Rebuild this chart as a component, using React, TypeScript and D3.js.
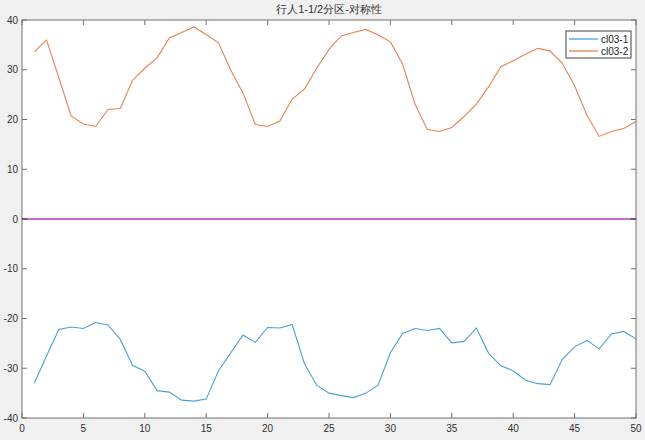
import React from 'react';
import * as d3 from 'd3';

const title = '行人1-1/2分区-对称性';
const seriesNames = ['cl03-1', 'cl03-2'];
const xTicks = [0, 5, 10, 15, 20, 25, 30, 35, 40, 45, 50];
const yTicks = [-40, -30, -20, -10, 0, 10, 20, 30, 40];

const cl031 = [
    -33.0, -27.5, -22.2, -21.7, -22.0, -20.8, -21.3, -24.2, -29.4, -30.6,
    -34.5, -34.8, -36.4, -36.6, -36.2, -30.5, -26.9, -23.3, -24.8, -21.8,
    -21.9, -21.2, -29.1, -33.4, -35.0, -35.5, -35.9, -35.0, -33.4, -26.9,
    -23.0, -22.0, -22.4, -22.0, -24.9, -24.6, -21.9, -27.0, -29.5, -30.5,
    -32.4, -33.1, -33.3, -28.2, -25.7, -24.4, -26.1, -23.1, -22.6, -24.1
];
const cl032 = [
    33.6, 36.0, 28.4, 20.7, 19.1, 18.6, 22.0, 22.2, 27.9, 30.3,
    32.4, 36.4, 37.5, 38.6, 37.1, 35.4, 29.9, 25.3, 19.0, 18.6,
    19.7, 24.1, 26.1, 30.3, 34.1, 36.8, 37.5, 38.1, 37.0, 35.6,
    31.1, 23.1, 18.0, 17.6, 18.4, 20.6, 23.1, 26.6, 30.6, 31.8,
    33.1, 34.3, 33.8, 31.3, 26.8, 20.9, 16.6, 17.6, 18.2, 19.6
];
const zeroLine = [0, 0];

const W = 645;
const H = 440;
const margin = {top: 20, right: 9, bottom: 22, left: 22};
const colors = ['#4a9fdc', '#ec8050'];
const font = 'Arial, "Liberation Sans", sans-serif';

export default function App() {
    const x = d3.scaleLinear().domain([0, 50]).range([margin.left, W - margin.right]);
    const y = d3.scaleLinear().domain([-40, 40]).range([H - margin.bottom, margin.top]);
    const line = d3.line<number>()
        .x((d, i) => x(i + 1))
        .y(d => y(d));
    const series = [cl031, cl032];
    const x0 = x(0), x1 = x(50), y0 = y(-40), y1 = y(40);
    const tick = 5;
    const axisColor = '#707070';

    return (
        <div style={{position: 'fixed', left: 0, top: 0, width: W, height: H, background: '#f0f0f0'}}>
            <svg width={W} height={H} style={{display: 'block', fontFamily: font}}>
                <rect x={0} y={0} width={W} height={H} fill="#f0f0f0"/>
                <rect x={x0} y={y1} width={x1 - x0} height={y0 - y1} fill="#ffffff"/>
                <text x={(x0 + x1) / 2} y={13} textAnchor="middle" fontSize={11}
                      fill="#303030">{title}</text>
                {series.map((s, i) => (
                    <path key={i} d={line(s) || ''} fill="none" stroke={colors[i]} strokeWidth={1.1}/>
                ))}
                {/* box */}
                <rect x={x0} y={y1} width={x1 - x0} height={y0 - y1} fill="none" stroke={axisColor} strokeWidth={1}/>
                {xTicks.map(t => (
                    <g key={'x' + t}>
                        <line x1={x(t)} x2={x(t)} y1={y0} y2={y0 - tick} stroke={axisColor}/>
                        <line x1={x(t)} x2={x(t)} y1={y1} y2={y1 + tick} stroke={axisColor}/>
                        <text x={x(t)} y={y0 + 14} textAnchor="middle" fontSize={10} fill="#303030">{t}</text>
                    </g>
                ))}
                {yTicks.map(t => (
                    <g key={'y' + t}>
                        <line x1={x0} x2={x0 + tick} y1={y(t)} y2={y(t)} stroke={axisColor}/>
                        <line x1={x1} x2={x1 - tick} y1={y(t)} y2={y(t)} stroke={axisColor}/>
                        <text x={x0 - 4} y={y(t) + 3.5} textAnchor="end" fontSize={10} fill="#303030">{t}</text>
                    </g>
                ))}
                <line x1={x0 + 6} x2={x1 - 6} y1={y(zeroLine[0])} y2={y(zeroLine[1])} stroke="#b838b8" strokeWidth={1.3}/>
                <line x1={x0} x2={x0 + 6} y1={y(0)} y2={y(0)} stroke="#502058" strokeWidth={1.3}/>
                <line x1={x1 - 6} x2={x1} y1={y(0)} y2={y(0)} stroke="#502058" strokeWidth={1.3}/>
                {/* legend */}
                <g transform={`translate(566,31)`}>
                    <rect x={0} y={0} width={65} height={27} fill="#ffffff" stroke="#404040" strokeWidth={1}/>
                    {seriesNames.map((n, i) => (
                        <g key={n} transform={`translate(0,${8 + i * 12})`}>
                            <line x1={3} x2={32} y1={0} y2={0} stroke={colors[i]} strokeWidth={1.3}/>
                            <text x={35} y={3.5} fontSize={10} fill="#202020">{n}</text>
                        </g>
                    ))}
                </g>
            </svg>
        </div>
    );
}
